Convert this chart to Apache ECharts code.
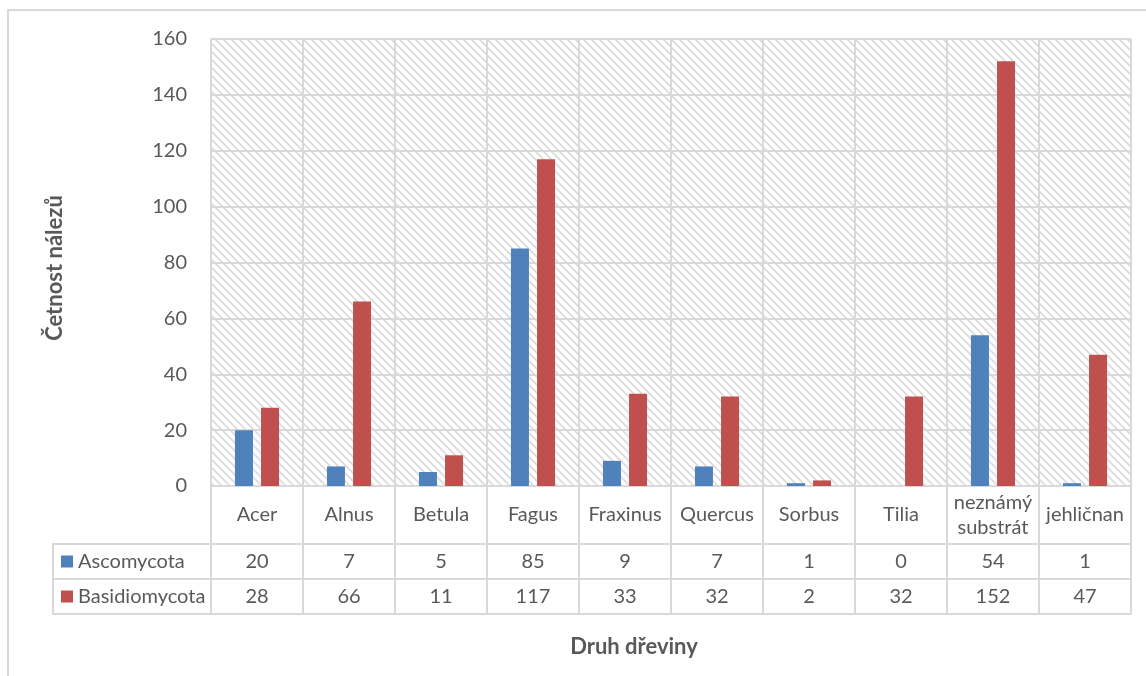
<!DOCTYPE html>
<html>
<head>
<meta charset="utf-8">
<script src="https://cdn.jsdelivr.net/npm/echarts@6/dist/echarts.min.js"></script>
<style>
  html, body { margin: 0; padding: 0; background: #fff; }
  #chart { width: 1146px; height: 676px; }
</style>
</head>
<body>
<div id="chart"></div>
<script>
// Categories (tree species) and find counts per phylum
const categories = ['Acer', 'Alnus', 'Betula', 'Fagus', 'Fraxinus', 'Quercus', 'Sorbus', 'Tilia', 'neznámý\nsubstrát', 'jehličnan'];
const ascomycota = [20, 7, 5, 85, 9, 7, 1, 0, 54, 1];
const basidiomycota = [28, 66, 11, 117, 33, 32, 2, 32, 152, 47];
const seriesNames = ['Ascomycota', 'Basidiomycota'];
const yTicks = { min: 0, max: 160, interval: 20 };
const yTitle = 'Četnost nálezů';
const xTitle = 'Druh dřeviny';

const FONT = 'Lato, "Open Sans", sans-serif';
const FS = 20;
const TEXT = '#595959';
const LINE = '#d9d9d9';

// Plot area layout
const G = { left: 211, top: 39, width: 920, height: 447 };
const plotBottom = G.top + G.height;          // 486
const rowCat = 58, rowVal = 35;                // data-table row heights

// Diagonal hatch fill for the plot area
function hatch() {
  const c = document.createElement('canvas');
  c.width = 8; c.height = 8;
  const g = c.getContext('2d');
  g.fillStyle = '#ffffff';
  g.fillRect(0, 0, 8, 8);
  g.strokeStyle = '#dadada';
  g.lineWidth = 1.6;
  g.beginPath();
  g.moveTo(-1, -1); g.lineTo(9, 9);
  g.moveTo(-1, 7); g.lineTo(1, 9);
  g.moveTo(7, -1); g.lineTo(9, 1);
  g.stroke();
  return c;
}

const chart = echarts.init(document.getElementById('chart'), null, { renderer: 'canvas' });

const tableAxis = (offset, formatter, labelMargin) => ({
  type: 'category',
  data: categories,
  gridIndex: 0,
  position: 'bottom',
  offset: offset,
  boundaryGap: true,
  axisLine: { show: true, lineStyle: { color: LINE, width: 2 } },
  axisTick: { show: false },
  splitLine: { show: false },
  axisLabel: {
    show: !!formatter,
    interval: 0,
    margin: labelMargin,
    verticalAlign: 'middle',
    color: TEXT,
    fontFamily: FONT,
    fontSize: FS,
    formatter: formatter || undefined
  }
});

const option = {
  backgroundColor: '#ffffff',
  animation: false,
  grid: {
    left: G.left, top: G.top, width: G.width, height: G.height,
    show: true,
    borderWidth: 0,
    backgroundColor: { image: hatch(), repeat: 'repeat' }
  },
  legend: {
    orient: 'vertical',
    left: 61,
    top: plotBottom + rowCat + (rowVal - 20) / 2,
    padding: 0,
    itemWidth: 12,
    itemHeight: 12,
    itemGap: rowVal - 20,
    icon: 'rect',
    data: seriesNames,
    textStyle: { color: TEXT, fontFamily: FONT, fontSize: FS, lineHeight: 20 },
    selectedMode: false
  },
  xAxis: [
    {
      type: 'category',
      data: categories,
      boundaryGap: true,
      axisLine: { show: true, lineStyle: { color: LINE, width: 2 } },
      axisTick: {
        show: true, interval: 0, length: rowCat + 2 * rowVal,
        lineStyle: { color: LINE, width: 2 }
      },
      splitLine: { show: true, interval: 0, lineStyle: { color: LINE, width: 2 } },
      axisLabel: {
        interval: 0,
        margin: rowCat / 2,
        verticalAlign: 'middle',
        color: TEXT,
        fontFamily: FONT,
        fontSize: FS,
        lineHeight: 25
      }
    },
    tableAxis(rowCat, (v, i) => String(ascomycota[i]), rowVal / 2),
    tableAxis(rowCat + rowVal, (v, i) => String(basidiomycota[i]), rowVal / 2),
    tableAxis(rowCat + 2 * rowVal, null, 0)
  ],
  yAxis: {
    type: 'value',
    min: yTicks.min,
    max: yTicks.max,
    interval: yTicks.interval,
    axisLine: { show: false },
    axisTick: { show: false },
    splitLine: { show: true, lineStyle: { color: LINE, width: 2 } },
    axisLabel: { margin: 24, color: TEXT, fontFamily: FONT, fontSize: FS }
  },
  series: [
    {
      name: seriesNames[0],
      type: 'bar',
      data: ascomycota,
      barWidth: 18,
      barGap: '45%',
      itemStyle: { color: '#4f81bd' }
    },
    {
      name: seriesNames[1],
      type: 'bar',
      data: basidiomycota,
      barWidth: 18,
      barGap: '45%',
      itemStyle: { color: '#c0504d' }
    }
  ],
  graphic: [
    // chart frame
    {
      type: 'rect', silent: true, z: -1,
      shape: { x: 8, y: 10, width: 1160, height: 700 },
      style: { fill: null, stroke: LINE, lineWidth: 2 }
    },
    // legend cells of the data table
    {
      type: 'rect', silent: true,
      shape: { x: 53, y: plotBottom + rowCat, width: G.left - 53, height: 2 * rowVal },
      style: { fill: null, stroke: LINE, lineWidth: 2 }
    },
    {
      type: 'line', silent: true,
      shape: { x1: 53, y1: plotBottom + rowCat + rowVal, x2: G.left, y2: plotBottom + rowCat + rowVal },
      style: { stroke: LINE, lineWidth: 2 }
    },
    // axis titles
    {
      type: 'text', silent: true,
      x: 55, y: 268, rotation: Math.PI / 2,
      style: {
        text: yTitle, fill: TEXT, font: 'bold 22px ' + FONT,
        textAlign: 'center', textVerticalAlign: 'middle'
      }
    },
    {
      type: 'text', silent: true,
      x: 634, y: 647,
      style: {
        text: xTitle, fill: TEXT, font: 'bold 22px ' + FONT,
        textAlign: 'center', textVerticalAlign: 'middle'
      }
    }
  ]
};

chart.setOption(option);
</script>
</body>
</html>
